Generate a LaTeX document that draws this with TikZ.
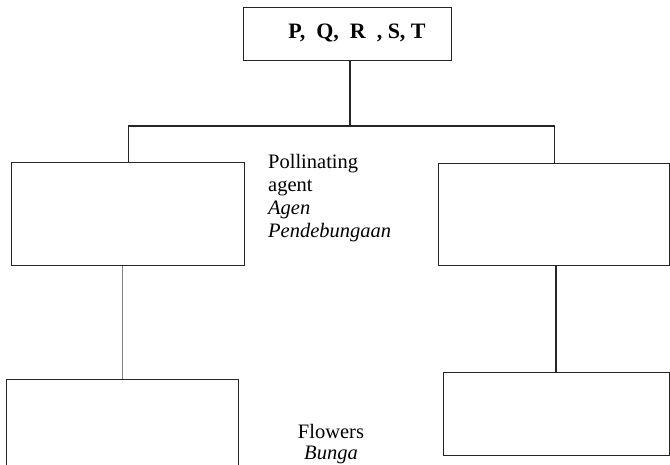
\documentclass[tikz,border=0pt]{standalone}
\usepackage{fontspec}
\setmainfont{Liberation Serif}
\begin{document}
\begin{tikzpicture}[x=1pt,y=-1pt,
  box/.style={draw=black!85, line width=1.1pt, minimum width=#1, inner sep=0pt, anchor=north west},
  lbl/.style={font=\fontsize{20.5}{23}\selectfont, inner sep=0pt},
  link/.style={draw=black!85, line width=1.1pt}]
\useasboundingbox (0,0) rectangle (670,465);
\clip (0,0) rectangle (670,465);
\node[box=208pt, minimum height=53pt] (top) at (243,7) {};
\node[lbl, font=\fontsize{22}{24}\selectfont\bfseries] (ttext) at (357,33) {P,\ \ Q,\ \ R\ \ , S, T};
\node[box=233pt, minimum height=103pt] (L1) at (11,162) {};
\node[box=231pt, minimum height=102pt] (R1) at (438,163) {};
\node[box=232pt, minimum height=100pt] (L2) at (6,379) {};
\node[box=226pt, minimum height=83pt] (R2) at (443,372) {};
\node[lbl, align=left, anchor=north west] (poll) at (268,154) {Pollinating\\agent\\\textit{Agen}\\\textit{Pendebungaan}};
\node[lbl, align=center, anchor=north, font=\fontsize{20.5}{21}\selectfont] (flow) at (331,424) {Flowers\\\textit{Bunga}};
\coordinate (j) at (350,126);
\draw[link] (top.south -| j) -- (j);
\draw[link] (L1.north) |- (j) -| (R1.north);
\draw[draw=gray, line width=0.9pt] (L2.north -| 122,0) -- (L1.south -| 122,0);
\draw[link] (R2.north -| 556,0) -- (R1.south -| 556,0);
\end{tikzpicture}
\end{document}
